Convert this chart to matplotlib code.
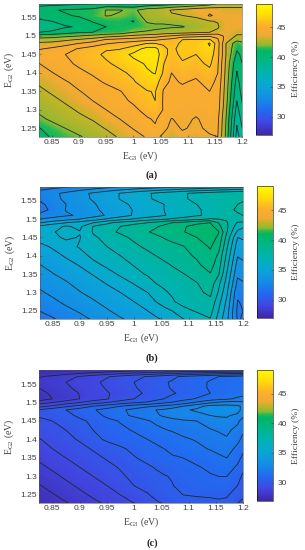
import numpy as np
import matplotlib
matplotlib.use('Agg')
import matplotlib.pyplot as plt
from matplotlib.colors import LinearSegmentedColormap, Normalize
from matplotlib.cm import ScalarMappable

plt.rcParams['font.family'] = ['Liberation Sans', 'DejaVu Sans']
plt.rcParams['mathtext.default'] = 'regular'

EG3 = [.825,.85,.875,.90,.925,.95,.975,1.0,1.025,1.04,1.055,1.07,1.09,1.115,1.14,1.155,1.17,1.19,1.2]
EG2 = [1.2273,1.25,1.275,1.30,1.325,1.35,1.375,1.40,1.425,1.45,1.465,1.48,1.49,1.50,1.51,1.525,1.54,1.555,1.57,1.588]

eff_a = [
 [40.6,41.1,41.5,41.9,42.3,42.7,43.1,43.6,44.1,44.4,43.7,43.0,43.7,43.4,43.9,44.0,41.8,37.6,38.6],
 [40.9,41.5,42.0,42.4,42.7,43.05,43.5,44.05,44.6,44.9,44.4,43.6,44.1,43.8,44.2,44.1,41.9,37.9,39],
 [41.7,42.2,42.6,42.8,43.05,43.55,44.0,44.4,44.9,45.1,44.6,43.95,44.3,43.9,44.4,44.2,42,38.2,39.4],
 [42.2,42.5,42.8,43.1,43.5,44.0,44.4,44.8,45.3,45.6,44.95,44.6,44.5,44.3,44.7,44.4,42.2,38.6,39.8],
 [42.5,42.8,43.1,43.6,44.0,44.4,44.75,45.15,45.7,46.0,44.9,44.7,44.7,44.7,44.8,44.5,42.4,39,40.1],
 [42.8,43.1,43.5,43.95,44.3,44.65,44.95,45.4,45.95,46.05,44.95,44.8,44.85,44.9,45.0,44.6,42.5,39.3,40.4],
 [43.1,43.45,43.9,44.3,44.75,45.1,45.45,45.9,46.5,46.6,45.2,44.9,45.05,44.9,45.25,44.8,42.6,39.6,40.6],
 [43.5,43.95,44.4,44.8,45.1,45.4,45.8,46.2,46.9,47.05,45.9,45.0,45.4,45.15,45.7,45,42.7,39.95,40.9],
 [43.95,44.4,44.8,45.15,45.5,45.85,46.25,46.7,47.1,47.4,46.05,45.45,45.9,45.7,46.2,45.1,42.8,40.2,41],
 [44.5,44.75,45,45.35,45.7,46.2,46.6,47.2,47.8,47.7,46.3,45.7,46.2,46.0,46.6,45.3,43,40.8,41.2],
 [43.9,44.2,44.6,45.1,45.5,45.9,45.95,46.5,47.4,47.4,46.2,45.8,46.3,46.3,46.9,45.3,43,41.1,41.3],
 [43.2,43.3,43.6,44.0,44.4,44.9,45.2,45.5,46.0,46.0,45.9,45.6,46.2,46.2,47.1,45.4,43,41.4,41.8],
 [42.4,42.5,42.8,43.1,43.4,44.1,44.3,44.5,44.7,44.8,45.1,45.3,46,46.1,46.1,45.1,43.5,42.3,42.4],
 [41.5,41.6,41.8,42,42.3,42.6,42.9,43.2,43.5,43.6,43.9,44.1,44.5,44.7,44.9,44.8,43.6,42.9,42.9],
 [40,40.2,40.6,40.9,41,41.3,41.4,42,42.1,42.2,42.4,42.5,42.6,42.8,43,43.2,43.6,43.2,43.2],
 [39,39.4,39.9,40.1,40.7,41,41.2,41.3,41.7,41.8,41.8,41.9,41.95,42.3,42.7,42.9,43.6,43.6,43.7],
 [39.8,40,40.4,40.6,41.05,41.2,41.3,40.95,42.1,42.2,42.2,42.2,42.4,42.6,42.95,43.05,43.6,43.7,43.8],
 [40.3,40.6,40.9,41.1,41.4,42.05,41.9,41.5,42.4,42.5,42.7,42.95,42.98,43.2,44.1,43.8,43.6,43.6,43.6],
 [40.7,40.9,41.1,41.2,41.3,42.05,42.05,41.8,42.5,42.6,42.8,43.05,43.3,43.7,43.8,43.6,43.5,43.4,43.4],
 [39.5,39.6,39.7,39.8,39.9,40,39.9,40,40.2,40.3,40.4,40.6,40.8,41,41.5,42,42.3,42.4,42.4],
]

eff_b = [
 [31.5,31.9,32.3,32.7,33.1,33.5,33.9,34.25,34.6,34.85,35.1,35.4,35.95,36.4,36.95,35.6,34.3,31.9,32.1],
 [32,32.3,32.75,33.1,33.5,33.9,34.3,34.6,35,35.3,35.7,36,36.7,37.1,37.35,36,34.5,31.8,32],
 [32.4,32.8,33.2,33.5,33.9,34.3,34.6,35,35.6,36,36.4,36.9,37.3,37.65,37.75,36.4,34.8,31.95,32.1],
 [32.85,33.2,33.55,33.95,34.3,34.65,35,35.6,36,36.4,36.9,37.1,37.45,37.8,38.2,36.9,35.2,32.2,32.4],
 [33.2,33.55,33.9,34.3,34.65,35.05,35.55,36.05,36.6,37,37.15,37.3,37.6,37.95,38.55,37.3,35.6,32.7,32.9],
 [33.55,33.95,34.3,34.7,35.05,35.6,36.15,36.7,37.1,37.35,37.5,37.7,37.95,38.4,38.95,38.1,36,33.2,33.4],
 [33.95,34.3,34.7,35.05,35.7,36.2,36.65,37.05,37.35,37.55,37.8,38.05,38.4,38.85,39.35,38.5,36.4,33.6,33.8],
 [34.4,34.7,35.1,35.6,36.25,36.7,37,37.4,37.75,38,38.25,38.5,38.8,39.1,39.75,38.8,36.8,34.05,34.2],
 [34.75,35.1,35.6,36.1,36.6,37,37.4,37.8,38.2,38.4,38.6,38.7,38.95,39.5,40.1,39.4,37.2,34.5,34.7],
 [35.3,35.8,36.15,35.95,36.85,37.3,37.75,38.2,38.5,38.8,39.05,39.3,39.6,40,40.5,39.8,37.7,35,35.1],
 [35.6,35.95,36.2,36.05,37.1,37.7,38.15,38.6,38.95,39.2,39.4,39.7,39.95,40.4,40.6,40.1,38.1,35.8,35.5],
 [35.2,35.7,36.1,35.8,37.05,37.4,38,38.4,38.6,38.9,39.2,39.5,39.9,40.3,40.4,39.3,38.2,36.5,36.2],
 [33.9,34.5,35,35.4,36,36.8,37.3,37.7,38,38.3,38.7,39,39.3,39.8,40,39,38.1,36.9,36.8],
 [33,33.3,33.6,34,34.5,35.1,35.6,36.1,36.5,36.7,36.9,37.1,37.4,37.7,38.1,38,37.9,37.7,37.7],
 [32.3,32.6,32.9,33.1,33.6,34.1,34.6,35.1,35.5,35.7,35.95,36.2,36.5,36.9,37.2,37.4,37.7,37.9,38],
 [31.4,32.3,33.05,33.2,33.85,34.2,34.7,35.05,35.4,35.7,36,36.2,36.5,36.9,37.2,37.5,37.8,38.1,38.2],
 [31.7,32.4,33,33.5,33.9,34.4,34.8,35.15,35.6,35.8,36,36.3,36.6,37,37.3,37.5,37.7,38,38.1],
 [32.2,32.7,33.2,33.7,34.1,34.6,35.05,35.4,35.9,36.1,36.3,36.5,36.9,37.2,37.4,37.5,37.7,37.9,37.9],
 [32.4,32.8,33.2,33.7,34.15,34.6,35.05,35.5,35.9,36.15,36.4,36.6,36.9,37.2,37.4,37.6,37.7,37.9,37.9],
 [31.5,31.7,31.9,32.1,32.4,32.7,33,33.2,33.4,33.5,33.6,33.7,33.9,34.1,34.3,34.4,34.5,34.6,34.6],
]

eff_c = [
 [27.5,27.7,27.95,28.2,28.45,28.7,28.95,29.2,29.5,29.7,29.85,30.0,30.1,30.2,30.3,30.35,30.3,29.8,29.6],
 [27.7,27.95,28.2,28.45,28.7,28.95,29.2,29.45,29.75,29.95,30.1,30.3,30.4,30.45,30.45,30.45,30.45,30.2,29.95],
 [27.95,28.2,28.45,28.7,28.95,29.2,29.5,29.8,30,30.15,30.3,30.37,30.6,30.75,30.85,30.9,30.85,30.4,30.1],
 [28.2,28.45,28.7,28.95,29.2,29.45,29.7,29.95,30.15,30.25,30.35,30.45,30.7,30.85,30.95,31,31,30.6,30.3],
 [28.45,28.7,28.95,29.2,29.45,29.65,29.85,30.05,30.3,30.45,30.6,30.7,30.85,30.95,31.1,31.2,31.3,30.9,30.55],
 [28.7,28.95,29.2,29.4,29.65,29.85,30.05,30.35,30.6,30.75,30.85,30.95,31,31.15,31.3,31.45,31.6,31.2,30.85],
 [28.95,29.2,29.4,29.65,29.85,30.05,30.3,30.55,30.8,30.9,31,31.1,31.3,31.45,31.65,31.8,31.85,31.45,31.15],
 [29.15,29.4,29.65,29.85,30.2,30.5,30.7,30.8,31,31.1,31.2,31.3,31.5,31.65,31.85,32,32.15,31.75,31.45],
 [29.45,29.6,29.8,30.1,30.4,30.65,30.85,31.05,31.25,31.45,31.55,31.65,31.8,32,32.15,32.25,32.3,32.05,31.7],
 [29.7,29.8,30.05,30.3,30.5,30.8,31.05,31.3,31.55,31.7,31.85,31.95,32.1,32.2,32.5,32.65,32.7,32.3,32],
 [29.85,30,30.25,30.5,30.7,31.15,31.45,31.7,31.95,32.1,32.3,32.5,32.65,32.6,32.8,32.85,32.85,32.7,32.3],
 [29.85,30.15,30.4,30.7,30.95,31.2,31.5,31.75,32.05,32.2,32.3,32.5,32.7,32.9,33.1,33.2,33.25,33,32.6],
 [29.0,29.3,29.7,30,30.4,30.7,31,31.3,31.5,31.6,31.75,31.85,32.2,32.6,33,33,33,32.9,32.7],
 [28.3,28.6,28.9,29.2,29.5,29.8,30.1,30.35,30.5,30.7,30.9,31.05,31.3,31.7,32.1,32.3,32.4,32.4,32.3],
 [27.7,28,28.25,28.6,28.9,29.15,29.5,29.8,30,30.2,30.4,30.55,30.8,31.05,31.3,31.4,31.5,31.7,31.8],
 [27.8,28.1,28.35,28.62,28.9,29.15,29.4,29.65,29.9,30.05,30.2,30.35,30.5,30.75,31,31.1,31.2,31.35,31.4],
 [28,28.25,28.5,28.75,29,29.25,29.5,29.75,30,30.15,30.3,30.45,30.6,30.85,31.05,31.15,31.2,31.35,31.4],
 [28.2,28.4,28.6,28.85,29.05,29.35,29.6,29.8,30,30.2,30.35,30.45,30.65,30.85,31.05,31.15,31.2,31.35,31.4],
 [27.95,28.15,28.4,28.65,28.9,29.15,29.4,29.65,29.85,30,30.15,30.3,30.5,30.7,30.9,31,31.1,31.2,31.3],
 [27,27.1,27.2,27.3,27.4,27.5,27.6,27.7,27.8,27.85,27.9,27.95,28,28.05,28.1,28.15,28.2,28.2,28.2],
]

levels_a = [38,39,40,41,42,43,44,45,46,47]
levels_b = [32,33,34,35,36,37,38,39,40]
levels_c = [28,28.6,29.2,29.8,30.4,31,31.6,32.2,32.8]
panel_tags = ['(a)', '(b)', '(c)']
x_ticks = [0.85,0.9,0.95,1,1.05,1.1,1.15,1.2]
y_ticks = [1.25,1.3,1.35,1.4,1.45,1.5,1.55]
cbar_ticks = [30,35,40,45]
VMIN, VMAX = 26.9, 49.0

stops = [(26.9,(62,38,168)),(29,(65,70,225)),(31,(35,105,240)),(33,(20,140,230)),(35,(10,165,215)),
         (37,(0,178,180)),(39,(0,182,140)),(41,(0,182,100)),(41.5,(40,185,80)),(42,(140,185,50)),
         (43,(195,180,40)),(43.7,(240,170,50)),(45,(250,172,48)),(46,(253,192,30)),(47,(255,218,10)),(49,(255,250,0))]
cmap = LinearSegmentedColormap.from_list('eff', [((v-VMIN)/(VMAX-VMIN), tuple(c/255 for c in rgb)) for v,rgb in stops], N=512)
norm = Normalize(VMIN, VMAX)

W, H = 305, 550
fig = plt.figure(figsize=(W/100, H/100), dpi=100)

def box(l, t, r, b):
    return [l/W, 1-b/H, (r-l)/W, (b-t)/H]

axes_px = [(38.7,3.5,242.3,136.7),(39.5,186.7,243,319.3),(39.3,370,243,503.3)]
cbar_px = [(256.3,3.5,272,135),(257,186.5,272.5,318),(257,370,272.5,501)]
tag_y = [175.5,358,543]
tc = '#404040'

for z, lv, ap, cp, tag, ty in zip([eff_a,eff_b,eff_c],[levels_a,levels_b,levels_c],axes_px,cbar_px,panel_tags,tag_y):
    ax = fig.add_axes(box(*ap))
    ax.contourf(EG3, EG2, z, levels=np.linspace(VMIN, VMAX, 222), cmap=cmap, norm=norm, extend='both')
    ax.contour(EG3, EG2, z, levels=lv, colors='#1c2a2a', linewidths=0.6)
    ax.set_xlim(0.826, 1.2)
    ax.set_ylim(1.2273, 1.588)
    ax.set_xticks(x_ticks, [f'{t:g}' for t in x_ticks])
    ax.set_yticks(y_ticks, [f'{t:g}' for t in y_ticks])
    ax.tick_params(direction='in', length=1.5, width=0.4, labelsize=6, colors=tc, pad=1.5)
    for s in ax.spines.values():
        s.set_linewidth(0.4); s.set_color('#555555')
    ax.set_xlabel(r'E$_{G3}$ (eV)', family='Liberation Serif', fontsize=7, color=tc, labelpad=2.5)
    ax.set_ylabel(r'E$_{G2}$ (eV)', family='Liberation Serif', fontsize=7, color=tc, labelpad=3)
    cax = fig.add_axes(box(*cp))
    cb = fig.colorbar(ScalarMappable(norm=norm, cmap=cmap), cax=cax, ticks=cbar_ticks)
    cb.ax.tick_params(direction='in', length=1.5, width=0.4, labelsize=6, colors=tc, pad=3.5)
    cb.outline.set_linewidth(0.4)
    cb.set_label('Efficiency (%)', family='Liberation Serif', fontsize=6.8, color=tc, labelpad=4)
    fig.text(152/W, 1-ty/H, tag, family='Liberation Serif', fontsize=7.5, fontweight='bold',
             ha='center', va='center', color='#222222')

fig.savefig('out.png', dpi=100)
